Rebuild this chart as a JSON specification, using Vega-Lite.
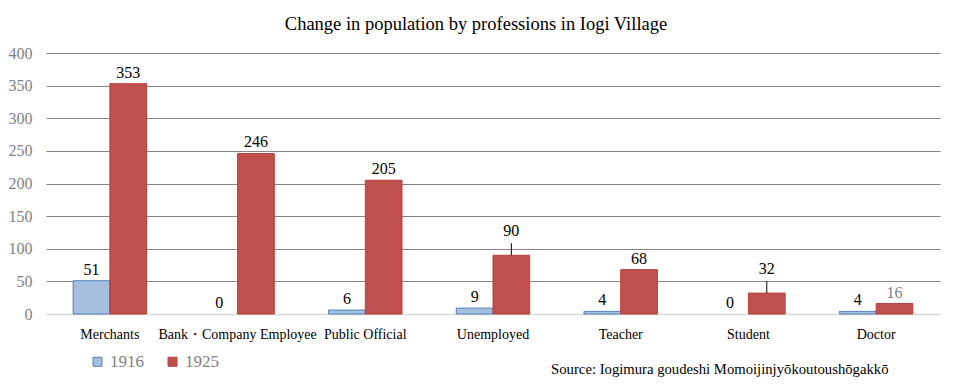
{
  "$schema": "https://vega.github.io/schema/vega-lite/v6.json",
  "width": 894,
  "height": 261,
  "autosize": {"type": "none"},
  "padding": {"left": 46, "top": 53, "right": 13, "bottom": 71},
  "background": "white",
  "config": {
    "font": "Liberation Serif, DejaVu Serif, serif",
    "view": {"stroke": null}
  },
  "title": {
    "text": "Change in population by professions in Iogi Village",
    "font": "Liberation Serif, DejaVu Serif, serif",
    "fontSize": 18.5,
    "fontWeight": "normal",
    "color": "#000000",
    "anchor": "middle",
    "dx": -17,
    "offset": 12
  },
  "data": {
    "values": [
      {"prof": "Merchants", "year": "1916", "value": 51},
      {"prof": "Merchants", "year": "1925", "value": 353},
      {"prof": "Bank・Company Employee", "year": "1916", "value": 0},
      {"prof": "Bank・Company Employee", "year": "1925", "value": 246},
      {"prof": "Public Official", "year": "1916", "value": 6},
      {"prof": "Public Official", "year": "1925", "value": 205},
      {"prof": "Unemployed", "year": "1916", "value": 9},
      {"prof": "Unemployed", "year": "1925", "value": 90},
      {"prof": "Teacher", "year": "1916", "value": 4},
      {"prof": "Teacher", "year": "1925", "value": 68},
      {"prof": "Student", "year": "1916", "value": 0},
      {"prof": "Student", "year": "1925", "value": 32},
      {"prof": "Doctor", "year": "1916", "value": 4},
      {"prof": "Doctor", "year": "1925", "value": 16}
    ]
  },
  "encoding": {
    "x": {
      "field": "prof",
      "type": "nominal",
      "sort": null,
      "scale": {"paddingInner": 0.425, "paddingOuter": 0.2125},
      "axis": {
        "title": "Source: Iogimura goudeshi Momoijinjyōkoutoushōgakkō",
        "titleFont": "Liberation Serif, DejaVu Serif, serif",
        "titleFontSize": 14.7,
        "titleFontWeight": "normal",
        "titleColor": "#000000",
        "titleAlign": "right",
        "titleAnchor": "end",
        "titleBaseline": "alphabetic",
        "titleX": 842,
        "titleY": 59,
        "labelAngle": 0,
        "labelFont": "Liberation Serif, DejaVu Serif, serif",
        "labelFontSize": 14,
        "labelColor": "#000000",
        "labelPadding": 13,
        "ticks": false,
        "domainColor": "#D9D9D9",
        "domainWidth": 1.5
      }
    },
    "xOffset": {"field": "year", "type": "nominal", "scale": {"paddingInner": 0, "paddingOuter": 0}},
    "y": {
      "field": "value",
      "type": "quantitative",
      "scale": {"domain": [0, 400]},
      "axis": {
        "title": null,
        "values": [0, 50, 100, 150, 200, 250, 300, 350, 400],
        "labelFont": "Liberation Serif, DejaVu Serif, serif",
        "labelFontSize": 16,
        "labelColor": "#7F7F7F",
        "labelPadding": 14,
        "ticks": false,
        "domain": false,
        "gridColor": {"condition": {"test": "datum.value === 0", "value": "#D9D9D9"}, "value": "#868686"},
        "gridWidth": 1.2
      }
    }
  },
  "layer": [
    {
      "transform": [{"filter": "datum.value > 0"}],
      "mark": {"type": "bar", "strokeWidth": 1},
      "encoding": {
        "color": {
          "field": "year",
          "type": "nominal",
          "scale": {"domain": ["1916", "1925"], "range": ["#A7BFDE", "#C0504D"]},
          "legend": {
            "title": null,
            "orient": "none",
            "legendX": 43,
            "legendY": 300,
            "direction": "horizontal",
            "columns": 2,
            "columnPadding": 20,
            "symbolType": "square",
            "symbolSize": 81,
            "symbolStrokeWidth": 1,
            "labelFont": "Liberation Serif, DejaVu Serif, serif",
            "labelFontSize": 17,
            "labelColor": "#7F7F7F",
            "labelOffset": 4
          }
        },
        "stroke": {
          "field": "year",
          "type": "nominal",
          "scale": {"domain": ["1916", "1925"], "range": ["#4F81BD", "#B9403D"]},
          "legend": null
        }
      }
    },
    {
      "transform": [{"filter": "!(datum.year === '1925' && (datum.prof === 'Unemployed' || datum.prof === 'Student'))"}],
      "mark": {"type": "text", "baseline": "alphabetic", "dy": -6, "fontSize": 16, "font": "Liberation Serif, DejaVu Serif, serif"},
      "encoding": {
        "text": {"field": "value", "type": "quantitative"},
        "color": {"condition": {"test": "datum.prof === 'Doctor' && datum.year === '1925'", "value": "#7F7F7F"}, "value": "#000000"}
      }
    },
    {
      "transform": [{"filter": "datum.year === '1925' && (datum.prof === 'Unemployed' || datum.prof === 'Student')"}],
      "mark": {"type": "text", "baseline": "alphabetic", "dy": -19, "fontSize": 16, "font": "Liberation Serif, DejaVu Serif, serif", "color": "#000000"},
      "encoding": {
        "text": {"field": "value", "type": "quantitative"}
      }
    },
    {
      "transform": [{"filter": "datum.year === '1925' && (datum.prof === 'Unemployed' || datum.prof === 'Student')"}],
      "mark": {"type": "rule", "color": "#000000", "strokeWidth": 1, "y2Offset": -12},
      "encoding": {
        "y2": {"field": "value"}
      }
    }
  ]
}
